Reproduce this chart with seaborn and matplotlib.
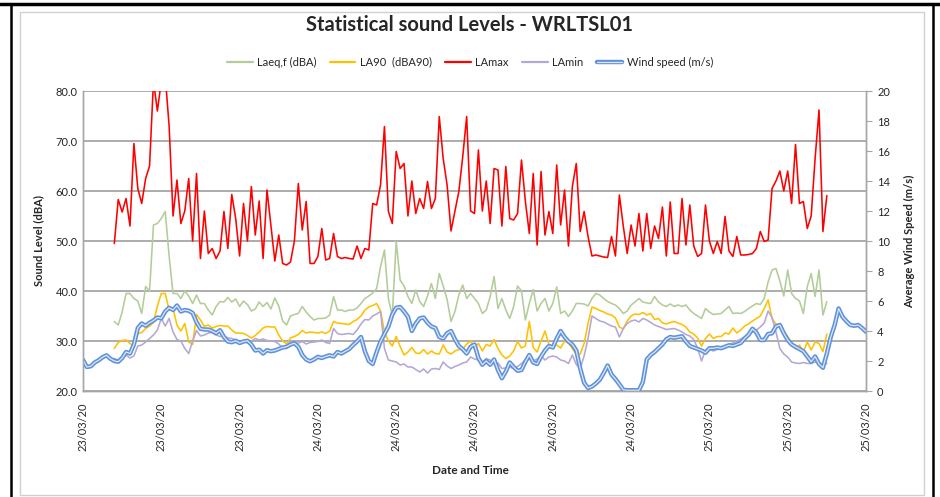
import pandas as pd
import matplotlib
matplotlib.use("Agg")
import matplotlib.pyplot as plt
import matplotlib.dates as mdates
import matplotlib.patheffects as pe
from matplotlib.lines import Line2D
from matplotlib.patches import Rectangle
from matplotlib.ticker import FormatStrFormatter, MultipleLocator
import seaborn as sns

# ─── DATA (15 minute readings) ───────────────────────────────────────────────
start = pd.Timestamp("2020-03-23 12:00")
tick_dates = pd.date_range(start, periods=11, freq="5h")

# sound levels, first reading 2 h after start, one row per hour
lamax = [
    49.5, 58.3, 55.8, 58.5,  53.0, 69.5, 60.5, 57.5,  62.5, 65.0, 82.0, 76.0,
    82.0, 83.0, 73.0, 55.0,  62.2, 53.5, 56.0, 62.5,  50.0, 63.5, 46.5, 56.0,
    47.5, 48.5, 46.5, 48.0,  55.9, 48.5, 59.3, 54.5,  47.0, 57.5, 50.0, 60.9,
    51.2, 58.0, 46.5, 60.2,  53.0, 46.0, 51.2, 45.5,  45.2, 45.8, 50.0, 61.5,
    52.2, 57.9, 45.5, 45.5,  46.9, 52.5, 46.2, 46.5,  51.5, 46.9, 46.5, 46.7,
    46.5, 46.4, 49.0, 46.5,  48.5, 48.2, 57.5, 57.2,  61.2, 72.9, 55.9, 53.5,
    67.9, 64.5, 65.5, 55.0,  62.0, 55.5, 58.5, 56.5,  61.9, 56.5, 58.5, 74.9,
    66.5, 61.2, 52.0, 55.9,  59.9, 66.9, 74.9, 56.0,  55.5, 68.2, 56.0, 62.0,
    53.5, 64.5, 64.2, 53.0,  64.9, 54.5, 54.2, 55.5,  66.2, 57.9, 51.5, 63.5,
    49.2, 63.9, 51.2, 55.9,  51.5, 65.2, 53.2, 60.2,  49.0, 60.9, 65.5, 51.9,
    55.9, 50.9, 47.0, 47.2,  47.0, 46.8, 46.7, 50.9,  47.0, 59.2, 53.0, 47.5,
    53.2, 49.0, 55.5, 48.0,  55.5, 48.5, 53.0, 50.5,  56.8, 47.0, 57.8, 47.5,
    47.5, 58.5, 49.2, 57.2,  49.0, 46.9, 47.5, 57.2,  50.0, 47.5, 49.9, 47.5,
    54.9, 48.0, 46.9, 50.9,  47.2, 47.2, 47.3, 47.5,  48.5, 51.9, 49.9, 50.2,
    60.5, 62.0, 64.0, 60.0,  64.0, 57.5, 69.3, 57.5,  57.9, 52.5, 55.0, 66.5,
    76.2, 51.9, 59.1,
]

laeq = [
    33.9, 33.2, 35.8, 39.5,  39.5, 38.5, 38.0, 35.5,  40.9, 40.0, 53.2, 53.5,
    54.5, 55.9, 47.0, 39.5,  39.5, 38.5, 40.0, 39.0,  37.5, 39.2, 37.5, 37.5,
    36.2, 35.2, 36.9, 37.9,  37.8, 38.7, 37.8, 38.4,  36.9, 38.0, 37.3, 36.0,
    36.4, 37.8, 36.9, 37.7,  36.4, 38.6, 37.0, 34.0,  33.2, 35.0, 35.3, 35.5,
    36.9, 35.8, 34.9, 34.2,  34.5, 34.5, 34.6, 35.2,  38.9, 36.2, 36.2, 35.9,
    36.2, 36.2, 36.6, 37.5,  38.5, 39.0, 39.6, 40.5,  44.9, 48.2, 38.5, 35.0,
    49.9, 42.2, 41.0, 38.9,  37.5, 40.2, 37.9, 36.9,  39.0, 41.5, 38.5, 43.5,
    41.0, 38.3, 33.9, 35.9,  39.2, 41.2, 38.5, 39.5,  38.5, 37.5, 35.5, 36.2,
    38.9, 42.9, 36.5, 38.5,  36.2, 34.5, 36.9, 41.0,  40.0, 34.2, 37.5, 40.3,
    36.0, 37.5, 38.5, 36.0,  37.5, 40.8, 35.5, 36.0,  34.9, 36.0, 37.5, 37.5,
    37.4, 37.0, 38.5, 39.5,  39.2, 38.5, 37.9, 37.5,  37.2, 36.5, 35.5, 36.0,
    37.2, 37.8, 38.5, 37.8,  37.6, 37.5, 38.9, 37.8,  37.2, 36.9, 37.4, 36.9,
    37.2, 36.9, 37.2, 36.2,  35.5, 35.0, 34.5, 36.5,  35.8, 35.3, 35.4, 35.5,
    36.2, 36.9, 35.5, 35.6,  35.5, 35.9, 36.5, 37.0,  37.5, 37.3, 38.5, 41.8,
    44.2, 44.5, 42.0, 39.0,  44.2, 39.5, 38.5, 38.0,  35.5, 40.9, 43.5, 38.9,
    44.2, 35.2, 37.9,
]

la90 = [
    28.5, 29.7, 30.1, 30.2,  29.5, 29.0, 31.5, 31.7,  32.5, 33.0, 33.7, 37.0,
    39.5, 39.5, 36.2, 36.5,  33.2, 32.0, 33.5, 29.8,  29.3, 35.3, 34.2, 32.9,
    33.2, 32.6, 32.9, 33.1,  33.0, 33.0, 32.2, 31.6,  31.6, 31.5, 31.1, 30.6,
    31.1, 31.8, 32.6, 32.9,  32.8, 32.8, 31.2, 30.0,  29.4, 30.6, 30.9, 31.3,
    32.1, 31.6, 31.8, 31.7,  31.6, 31.8, 31.5, 32.0,  33.9, 33.6, 33.5, 33.4,
    33.3, 33.9, 34.3, 35.0,  36.2, 36.8, 37.1, 37.5,  36.0, 31.8, 30.0, 29.0,
    30.9, 28.9, 27.2, 27.8,  28.7, 27.6, 27.5, 28.3,  27.4, 28.0, 27.5, 27.4,
    29.2, 27.8, 27.4, 28.0,  28.3, 28.4, 29.4, 30.0,  28.6, 29.5, 28.0, 29.3,
    29.0, 30.3, 28.5, 27.2,  26.5, 27.0, 28.0, 29.9,  28.6, 29.0, 33.9, 28.7,
    27.8, 30.0, 32.0, 29.3,  28.8, 29.2, 28.6, 30.0,  29.6, 28.5, 27.3, 27.4,
    29.5, 33.5, 36.8, 36.5,  36.1, 35.8, 35.4, 35.2,  34.6, 32.8, 32.4, 34.0,
    35.0, 35.4, 35.3, 35.7,  35.2, 35.5, 34.3, 34.5,  33.6, 33.4, 33.7, 33.9,
    33.6, 33.3, 32.8, 31.8,  31.4, 30.6, 29.0, 30.5,  31.4, 30.5, 30.9, 30.9,
    31.6, 31.4, 32.6, 31.6,  32.2, 33.0, 33.4, 34.0,  34.5, 35.0, 36.5, 38.2,
    34.5, 33.4, 33.0, 32.0,  30.9, 29.7, 28.4, 29.2,  27.9, 29.8, 28.2, 29.8,
    29.5, 27.9, 31.4,
]

lamin = [
    26.5, 26.2, 26.8, 27.2,  26.6, 27.0, 29.0, 29.2,  29.8, 30.5, 31.2, 32.2,
    34.5, 33.0, 34.5, 31.8,  30.3, 30.0, 28.5, 27.5,  30.0, 32.1, 31.0, 31.2,
    31.6, 31.7, 31.2, 30.9,  31.0, 30.6, 30.5, 30.2,  29.5, 30.0, 29.6, 30.0,
    30.5, 30.2, 30.4, 30.1,  30.0, 29.9, 29.4, 28.6,  28.5, 30.1, 29.4, 29.6,
    29.9, 29.4, 29.7, 29.8,  29.9, 30.2, 29.7, 29.5,  32.5, 31.5, 31.3, 31.4,
    31.5, 31.3, 32.2, 33.4,  34.3, 34.2, 35.0, 35.4,  35.9, 28.5, 26.2, 26.0,
    25.8, 25.2, 25.4, 24.8,  24.8, 24.3, 23.8, 24.4,  23.6, 24.4, 24.5, 24.3,
    25.8, 25.0, 24.5, 24.9,  25.2, 25.6, 25.8, 26.8,  26.4, 26.2, 25.8, 26.5,
    26.2, 25.6, 25.6, 24.5,  24.6, 24.8, 24.5, 24.9,  25.5, 26.2, 26.4, 26.0,
    26.4, 27.0, 26.2, 26.8,  27.0, 26.8, 26.2, 26.0,  25.5, 27.2, 25.3, 24.5,
    27.0, 30.5, 35.0, 34.5,  34.0, 33.8, 33.4, 33.0,  32.8, 30.8, 32.5, 33.5,
    34.0, 34.2, 33.8, 34.5,  34.2, 33.7, 33.2, 32.9,  32.6, 32.3, 32.4, 32.5,
    32.2, 31.8, 31.3, 31.0,  30.3, 28.5, 26.0, 28.2,  28.4, 28.0, 28.3, 28.5,
    29.0, 29.3, 29.6, 30.0,  30.4, 30.8, 31.3, 31.8,  32.2, 32.8, 33.6, 36.0,
    34.7, 31.8, 28.5, 27.4,  26.8, 25.8, 25.6, 25.5,  25.7, 25.5, 25.5, 25.8,
    25.6, 25.4, 25.5,
]

# wind speed (m/s), from start, one row per hour
wind = [
    2.07, 1.60, 1.65, 1.90,  2.05, 2.25, 2.38, 2.15,  2.00, 1.95, 2.20, 2.60,
    2.50, 3.10, 4.20, 4.50,  4.35, 4.55, 4.70, 4.90,  4.85, 5.30, 5.55, 5.40,
    5.70, 5.30, 5.40, 5.35,  5.20, 4.60, 4.15, 4.10,  4.10, 4.00, 3.85, 4.05,
    3.60, 3.30, 3.25, 3.35,  3.20, 3.30, 3.35, 3.10,  2.70, 2.75, 2.50, 2.72,
    2.65, 2.70, 2.80, 2.90,  2.95, 3.10, 3.18, 2.95,  2.40, 2.10, 1.98, 2.10,
    2.28, 2.20, 2.30, 2.38,  2.30, 2.60, 2.50, 2.65,  2.80, 3.07, 3.30, 3.60,
    2.65, 2.00, 1.80, 2.60,  3.30, 3.80, 4.30, 5.10,  5.55, 5.60, 5.30, 4.95,
    4.00, 4.50, 4.84, 4.90,  4.55, 4.30, 4.20, 3.60,  3.50, 3.85, 4.00, 3.45,
    3.00, 2.78, 2.50, 2.95,  3.10, 2.20, 1.75, 2.00,  1.75, 2.10, 1.40, 0.85,
    1.30, 1.90, 1.60, 1.35,  1.40, 1.95, 2.40, 1.90,  1.80, 2.30, 2.70, 3.00,
    2.90, 3.50, 4.00, 3.60,  3.30, 3.10, 2.70, 1.50,  0.55, 0.20, 0.30, 0.50,
    0.75, 1.20, 1.70, 1.10,  0.80, 0.45, 0.08, 0.05,  0.05, 0.05, 0.05, 0.60,
    2.10, 2.40, 2.60, 2.85,  3.10, 3.45, 3.60, 3.55,  3.60, 3.65, 3.30, 3.00,
    2.90, 2.80, 2.70, 2.55,  2.85, 2.85, 2.90, 2.85,  2.95, 3.05, 3.00, 3.10,
    3.20, 3.50, 3.75, 4.15,  3.90, 3.40, 3.40, 3.80,  3.85, 4.30, 4.40, 3.85,
    3.40, 3.10, 2.95, 2.80,  2.65, 2.30, 1.95, 2.30,  1.80, 1.55, 2.50, 3.60,
    4.40, 5.50, 4.95, 4.65,  4.40, 4.35, 4.40, 4.20,  3.95,
]

series_names = ["Laeq,f (dBA)", "LA90  (dBA90)", "LAmax", "LAmin"]
series_colors = ["#b3cc99", "#ffc000", "#ff0000", "#b4a7d6"]
wind_name = "Wind speed (m/s)"

# ─── FRAME ───────────────────────────────────────────────────────────────────
sns.set_style("white")
plt.rcParams["font.family"] = ["Lato", "DejaVu Sans"]

W, H = 940, 497
fig = plt.figure(figsize=(W / 100, H / 100), dpi=100)

def fx(px):
    return px / W

def fy(py):
    return 1 - py / H

# page / table borders around the chart
fig.add_artist(Rectangle((fx(20), fy(495)), fx(924) - fx(20), fy(12) - fy(495),
                         fill=False, edgecolor="#d0d0d0", linewidth=1.0))
fig.add_artist(Line2D([0, 1], [fy(4), fy(4)], color="black", linewidth=2.5))
fig.add_artist(Line2D([fx(11), fx(11)], [0, fy(4)], color="black", linewidth=1.8))
fig.add_artist(Line2D([fx(933), fx(933)], [0, fy(4)], color="black", linewidth=1.8))

ax = fig.add_axes([fx(83), fy(391), fx(866) - fx(83), fy(91) - fy(391)])
ax2 = ax.twinx()

# ─── SOUND LEVELS ────────────────────────────────────────────────────────────
sound_time = pd.date_range(start + pd.Timedelta(hours=2), periods=len(lamax), freq="15min")
sound = pd.DataFrame({"time": sound_time, series_names[0]: laeq, series_names[1]: la90,
                      series_names[2]: lamax, series_names[3]: lamin})
sound_long = sound.melt(id_vars="time", var_name="series", value_name="level")

sns.lineplot(data=sound_long, x="time", y="level", hue="series",
             hue_order=series_names, palette=dict(zip(series_names, series_colors)),
             linewidth=1.15, legend=False, ax=ax)

# ─── WIND (double line) ──────────────────────────────────────────────────────
wind_style = dict(color="#dce7f7", linewidth=0.9,
                  path_effects=[pe.Stroke(linewidth=3.2, foreground="#5f92da"), pe.Normal()])
wind_time = pd.date_range(start, periods=len(wind), freq="15min")
sns.lineplot(x=wind_time, y=wind, ax=ax2, **wind_style)

# ─── AXES ────────────────────────────────────────────────────────────────────
grid_col = "#a6a6a6"
ax.set_ylim(20, 80)
ax.yaxis.set_major_locator(MultipleLocator(10))
ax.yaxis.set_major_formatter(FormatStrFormatter("%.1f"))
ax.yaxis.grid(True, color=grid_col, linewidth=1.3)
ax.set_axisbelow(True)

ax2.set_ylim(0, 20)
ax2.yaxis.set_major_locator(MultipleLocator(2))

ax.set_xlim(start, start + pd.Timedelta(hours=50))
ax.set_xticks(tick_dates)
ax.xaxis.set_major_formatter(mdates.DateFormatter("%d/%m/%y"))

for a in (ax, ax2):
    for side in a.spines.values():
        side.set_color(grid_col)
        side.set_linewidth(1.0)
    a.spines["top"].set_visible(False)

ax.tick_params(axis="y", length=0, labelsize=8, labelcolor="#262626", pad=4)
ax.tick_params(axis="x", length=4, color=grid_col, labelsize=8,
               labelcolor="#262626", labelrotation=90, pad=4)
ax2.tick_params(axis="y", length=4, color=grid_col, labelsize=8,
                labelcolor="#262626", pad=4)

ax.set_xlabel("")
ax.set_ylabel("Sound Level (dBA)", fontsize=8, fontweight="bold", labelpad=8)
ax2.set_xlabel("")
ax2.set_ylabel("Average Wind Speed (m/s)", fontsize=8, fontweight="bold", labelpad=10)

fig.text(0.5, fy(471), "Date and Time", ha="center", va="center",
         fontsize=8.5, fontweight="bold", color="#262626")
fig.text(0.5, fy(25), "Statistical sound Levels - WRLTSL01", ha="center", va="center",
         fontsize=14.5, fontweight="bold", color="#262626")

# ─── LEGEND ──────────────────────────────────────────────────────────────────
handles = [Line2D([], [], color=c, linewidth=1.6) for c in series_colors]
handles.append(Line2D([], [], **wind_style))
fig.legend(handles, series_names + [wind_name], loc="center", bbox_to_anchor=(0.5, fy(62)),
           ncol=5, frameon=False, fontsize=8, handlelength=2.3, handletextpad=0.4,
           columnspacing=1.2, labelcolor="#262626")

fig.savefig("out.png", dpi=100)
